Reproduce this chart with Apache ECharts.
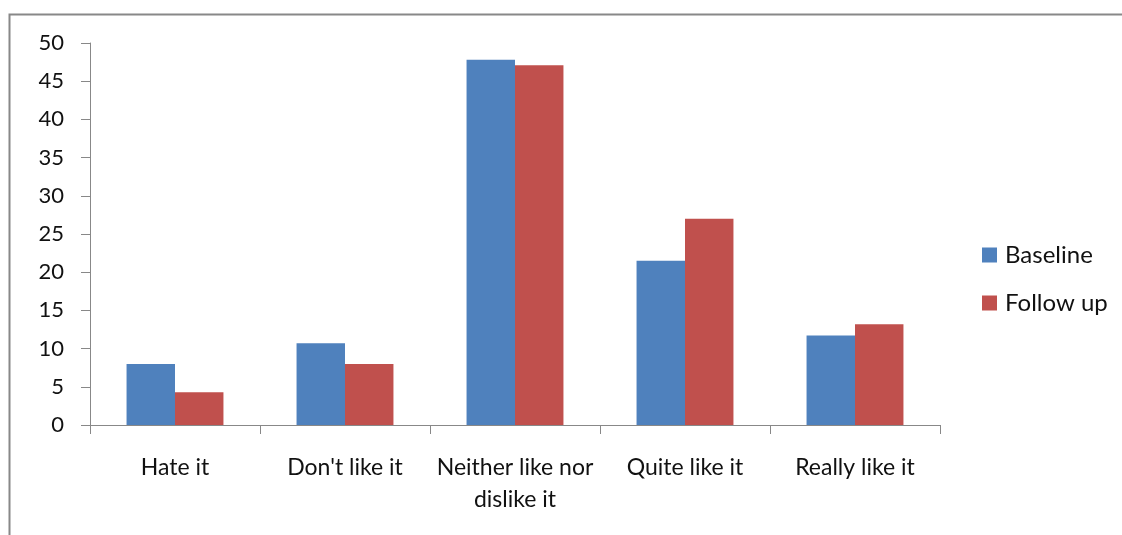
<!DOCTYPE html>
<html>
<head>
<meta charset="utf-8">
<script src="https://cdn.jsdelivr.net/npm/echarts@6/dist/echarts.min.js"></script>
<style>html,body{margin:0;padding:0;background:#fff;}#c{width:1122px;height:535px;}</style>
</head>
<body>
<div id="c"></div>
<script>
const categories = ["Hate it", "Don't like it", "Neither like nor\ndislike it", "Quite like it", "Really like it"];
const baseline = [8, 10.7, 47.8, 21.5, 11.7];
const followUp = [4.3, 8, 47.1, 27, 13.2];
const seriesNames = ["Baseline", "Follow up"];

const chart = echarts.init(document.getElementById('c'));
const font = 'Lato, "Open Sans", sans-serif';
chart.setOption({
  animation: false,
  backgroundColor: '#fff',
  graphic: [{
    type: 'polyline', shape: {points: [[9.5, 540], [9.5, 14.5], [1122, 14.5]]},
    style: {fill: 'none', stroke: '#888', lineWidth: 2}
  }],
  grid: {left: 90, right: 182, top: 43, bottom: 110},
  legend: {
    orient: 'vertical', left: 982, top: 243, padding: 0,
    itemWidth: 15, itemHeight: 15, itemGap: 24,
    icon: 'rect',
    textStyle: {fontFamily: font, fontSize: 24, color: '#111', padding: [0,0,0,3]},
    data: seriesNames
  },
  xAxis: {
    type: 'category', data: categories,
    axisLine: {lineStyle: {color: '#888', width: 1}},
    axisTick: {show: true, length: 9, lineStyle: {color: '#888'}},
    axisLabel: {fontFamily: font, fontSize: 23, color: '#111', margin: 27, lineHeight: 32, interval: 0}
  },
  yAxis: {
    type: 'value', min: 0, max: 50, interval: 5,
    axisLine: {show: true, lineStyle: {color: '#888', width: 1}},
    axisTick: {show: true, length: 9, lineStyle: {color: '#888'}},
    splitLine: {show: false},
    axisLabel: {fontFamily: font, fontSize: 22, color: '#111', margin: 26}
  },
  series: [
    {name: seriesNames[0], type: 'bar', data: baseline, barGap: '0%', barCategoryGap: '43%', itemStyle: {color: '#4F81BD'}},
    {name: seriesNames[1], type: 'bar', data: followUp, barGap: '0%', barCategoryGap: '43%', itemStyle: {color: '#C0504D'}}
  ]
});
</script>
</body>
</html>
